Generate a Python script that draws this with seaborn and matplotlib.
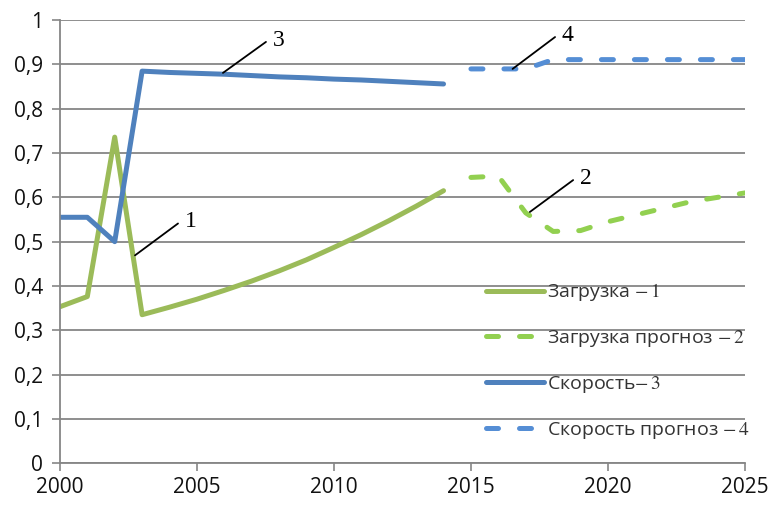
import matplotlib
matplotlib.use("Agg")
import matplotlib.pyplot as plt
import matplotlib.ticker as mticker
import seaborn as sns

# values
years_fact = list(range(2000, 2015))
years_fc = list(range(2015, 2026))

load_fact = [0.353, 0.376, 0.736, 0.335, 0.352, 0.370, 0.390, 0.411,
             0.434, 0.459, 0.487, 0.516, 0.547, 0.580, 0.615]
speed_fact = [0.555, 0.555, 0.500, 0.885, 0.882, 0.880, 0.878, 0.875,
              0.872, 0.870, 0.867, 0.865, 0.862, 0.859, 0.856]
load_fc = [0.645, 0.648, 0.565, 0.523, 0.525, 0.545, 0.560, 0.575,
           0.590, 0.600, 0.610]
speed_fc = [0.890, 0.890, 0.890, 0.911, 0.911, 0.911, 0.911, 0.911,
            0.911, 0.911, 0.911]

labels = ["Загрузка $-\\,1$", "Загрузка прогноз $-\\,2$",
          "Скорость$-\\,3$", "Скорость прогноз $-\\,4$"]

y_ticks = [0, 0.1, 0.2, 0.3, 0.4, 0.5, 0.6, 0.7, 0.8, 0.9, 1]
x_ticks = [2000, 2005, 2010, 2015, 2020, 2025]

# numbered callouts: (text, point on line, label position)
callouts = [
    ("1", (2002.74, 0.469), (2004.31, 0.541)),
    ("2", (2017.15, 0.567), (2018.73, 0.639)),
    ("3", (2005.95, 0.881), (2007.52, 0.951)),
    ("4", (2016.52, 0.890), (2018.07, 0.962)),
]

GREEN = "#9BBB59"
GREEN_FC = "#92D050"
BLUE = "#4F81BD"
BLUE_FC = "#558ED5"

sns.set_theme(style="white")
plt.rcParams["font.family"] = ["Open Sans", "DejaVu Sans"]
plt.rcParams["mathtext.fontset"] = "stix"

fig = plt.figure(figsize=(7.68, 5.05), dpi=100)
ax = fig.add_axes([0.078, 0.083, 0.892, 0.877])

lw = 3.6
dash = (0, (2.4, 4.2))
sns.lineplot(x=years_fact, y=load_fact, color=GREEN, lw=lw, ax=ax,
             label=labels[0], solid_capstyle="round")
sns.lineplot(x=years_fc, y=load_fc, color=GREEN_FC, lw=lw, ax=ax,
             label=labels[1], linestyle=dash, dash_capstyle="round")
sns.lineplot(x=years_fact, y=speed_fact, color=BLUE, lw=lw, ax=ax,
             label=labels[2], solid_capstyle="round")
sns.lineplot(x=years_fc, y=speed_fc, color=BLUE_FC, lw=lw, ax=ax,
             label=labels[3], linestyle=dash, dash_capstyle="round")

ax.set_xlim(2000, 2025)
ax.set_ylim(0, 1)
ax.set_xticks(x_ticks)
ax.set_yticks(y_ticks)
ax.yaxis.set_major_formatter(mticker.FuncFormatter(
    lambda v, p: ("%g" % round(v, 1)).replace(".", ",")))
ax.tick_params(axis="both", labelsize=15, colors="#868686", labelcolor="#111111",
               length=6, width=1.2, direction="out", bottom=True, left=True)
ax.tick_params(axis="x", pad=4)
ax.tick_params(axis="y", pad=6)
ax.set_xlabel("")
ax.set_ylabel("")

ax.grid(axis="y", color="#868686", lw=1.3)
ax.set_axisbelow(True)
for side in ["top", "right"]:
    ax.spines[side].set_visible(False)
for side in ["left", "bottom"]:
    ax.spines[side].set_color("#868686")
    ax.spines[side].set_linewidth(1.3)

for txt, pt, end in callouts:
    ax.annotate("", xy=pt, xytext=end,
                arrowprops=dict(arrowstyle="-", color="black", lw=1.3,
                                shrinkA=0, shrinkB=0))
    ax.text(end[0] + 0.25, end[1] + 0.004, txt, family="Liberation Serif",
            fontsize=17, ha="left", va="center", color="black")

leg = ax.legend(loc="upper left", bbox_to_anchor=(0.61, 0.428), frameon=False,
                fontsize=14, handlelength=3.0, handletextpad=0.15,
                labelspacing=1.28, borderaxespad=0)
for t in leg.get_texts():
    t.set_color("#333333")

fig.savefig("out.png", dpi=100)
